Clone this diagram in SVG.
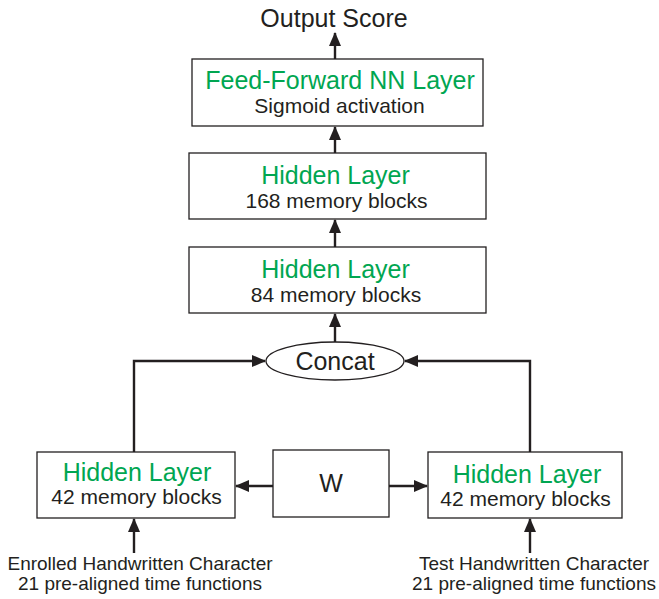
<svg xmlns="http://www.w3.org/2000/svg" width="659" height="599" viewBox="0 0 659 599">
<defs>
<marker id="ah" markerWidth="14" markerHeight="12" refX="13" refY="6" orient="auto" markerUnits="userSpaceOnUse">
<path d="M0,0 L14,6 L0,12 Z" fill="#231f20"/>
</marker>
<style>
.box{fill:#fff;stroke:#231f20;stroke-width:1.3}
.ln{fill:none;stroke:#231f20;stroke-width:2.4}
.t{font-family:"Liberation Sans",Arial,sans-serif;fill:#231f20;text-anchor:middle}
.g{fill:#00a651;font-size:25px}
.s{font-size:21px}
.i{font-size:19px}
.b{font-size:25px}
</style>
</defs>
<rect width="659" height="599" fill="#fff"/>
<g id="connectors">
<path class="ln" d="M335,59 V33" marker-end="url(#ah)"/>
<path class="ln" d="M335,153 V127" marker-end="url(#ah)"/>
<path class="ln" d="M335,247 V220" marker-end="url(#ah)"/>
<path class="ln" d="M335,342 V314" marker-end="url(#ah)"/>
<path class="ln" d="M134,452 V361 H265" marker-end="url(#ah)"/>
<path class="ln" d="M530,452 V361 H405" marker-end="url(#ah)"/>
<path class="ln" d="M273,486 H236" marker-end="url(#ah)"/>
<path class="ln" d="M389,486 H427" marker-end="url(#ah)"/>
<path class="ln" d="M134,553 V519" marker-end="url(#ah)"/>
<path class="ln" d="M530,553 V519" marker-end="url(#ah)"/>
</g>
<g id="output">
<text class="t b" x="334" y="27">Output Score</text>
</g>
<g id="ff">
<rect class="box" x="192" y="59" width="291" height="67"/>
<text class="t g" x="340" y="89">Feed-Forward NN Layer</text>
<text class="t s" x="339.5" y="113">Sigmoid activation</text>
</g>
<g id="h168">
<rect class="box" x="189" y="153" width="297" height="66"/>
<text class="t g" x="335.5" y="184">Hidden Layer</text>
<text class="t s" x="336.5" y="208">168 memory blocks</text>
</g>
<g id="h84">
<rect class="box" x="189" y="247" width="297" height="66"/>
<text class="t g" x="335.5" y="278">Hidden Layer</text>
<text class="t s" x="336" y="302">84 memory blocks</text>
</g>
<g id="concat">
<ellipse class="box" cx="335" cy="361" rx="69" ry="19"/>
<text class="t b" x="335" y="370">Concat</text>
</g>
<g id="hleft">
<rect class="box" x="37" y="452" width="198" height="66"/>
<text class="t g" x="137" y="481">Hidden Layer</text>
<text class="t s" x="136.5" y="504">42 memory blocks</text>
</g>
<g id="w">
<rect class="box" x="273" y="450" width="116" height="67"/>
<text class="t b" x="331" y="492">W</text>
</g>
<g id="hright">
<rect class="box" x="428" y="452" width="194" height="66"/>
<text class="t g" x="527" y="483">Hidden Layer</text>
<text class="t s" x="525.5" y="506">42 memory blocks</text>
</g>
<g id="inleft">
<text class="t i" x="140" y="570">Enrolled Handwritten Character</text>
<text class="t i" x="140" y="590">21 pre-aligned time functions</text>
</g>
<g id="inright">
<text class="t i" x="534" y="570">Test Handwritten Character</text>
<text class="t i" x="534" y="590">21 pre-aligned time functions</text>
</g>
</svg>
